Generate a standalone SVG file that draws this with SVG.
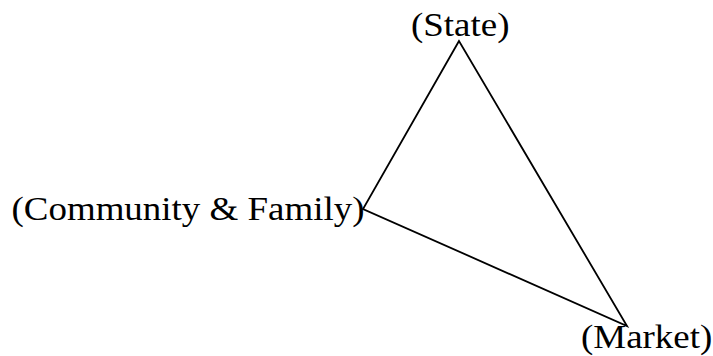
<svg xmlns="http://www.w3.org/2000/svg" width="713" height="356" viewBox="0 0 713 356">
  <style>
    .label { font-family: "Liberation Serif", "Times New Roman", serif; font-size: 33px; fill: #000; }
    .edge { stroke: #000; stroke-width: 1.8; fill: none; stroke-linejoin: miter; }
  </style>
  <rect width="713" height="356" fill="#fff"/>
  <g id="connectors">
    <path class="edge" d="M459,41 L363,209 L627,326 Z"/>
  </g>
  <!-- labels are set slightly wide: scaled 1.12 horizontally -->
  <g id="state">
    <text class="label" transform="translate(411,36) scale(1.12,1)">(State)</text>
  </g>
  <g id="community">
    <text class="label" transform="translate(11.5,220) scale(1.12,1)">(Community &amp; Family)</text>
  </g>
  <g id="market">
    <text class="label" transform="translate(581,348) scale(1.12,1)">(Market)</text>
  </g>
</svg>
